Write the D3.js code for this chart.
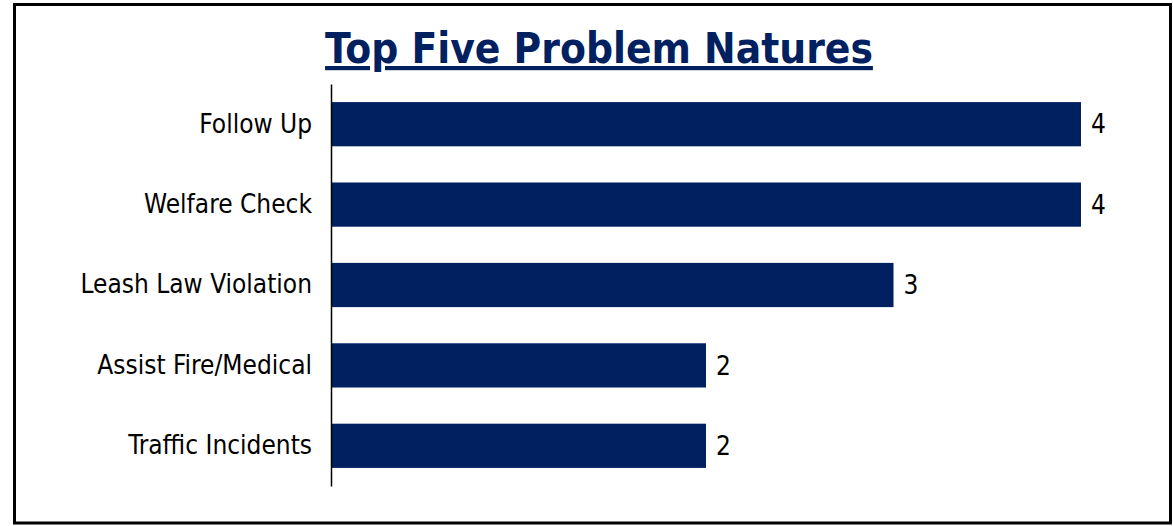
<!DOCTYPE html>
<html><head><meta charset="utf-8">
<script src="https://cdn.jsdelivr.net/npm/d3@7"></script>
<style>body{margin:0;background:#fff}svg{display:block}</style>
</head><body>
<script>
const categories = ["Follow Up","Welfare Check","Leash Law Violation","Assist Fire/Medical","Traffic Incidents"];
const values = [4,4,3,2,2];
const title = "Top Five Problem Natures";

const W=1173,H=526;
const svg=d3.select("body").append("svg").attr("width",W).attr("height",H);
svg.append("rect").attr("width",W).attr("height",H).attr("fill","#fff");
svg.append("rect").attr("x",14.5).attr("y",4.5).attr("width",1156).attr("height",518.5)
  .attr("fill","none").attr("stroke","#000").attr("stroke-width",3);

const navy="#002060";
const font="'DejaVu Sans Condensed','DejaVu Sans',sans-serif";
const x=d3.scaleLinear().domain([0,4]).range([331,1081]);
const y=d3.scaleBand().domain(categories).range([84,486]).paddingInner(0.45).paddingOuter(0.225);

svg.append("text").attr("x",599).attr("y",63).attr("text-anchor","middle")
  .attr("font-family",font).attr("font-weight","bold").attr("font-size",42)
  .attr("fill",navy).attr("text-decoration","underline").text(title);

svg.selectAll("rect.bar").data(categories).join("rect").attr("class","bar")
  .attr("x",x(0)).attr("y",d=>y(d)).attr("width",(d,i)=>x(values[i])-x(0))
  .attr("height",y.bandwidth()).attr("fill",navy);

const ax=svg.append("g").attr("transform",`translate(${x(0)},0)`)
  .call(d3.axisLeft(y).tickSize(0).tickPadding(19));
ax.select(".domain").attr("stroke","#000").attr("stroke-width",1.5);
ax.selectAll("text").attr("font-family",font).attr("font-size",26).attr("fill","#000");

svg.selectAll("text.val").data(categories).join("text").attr("class","val")
  .attr("x",(d,i)=>x(values[i])+10).attr("y",d=>y(d)+y.bandwidth()/2)
  .attr("dy","0.35em").attr("font-family",font).attr("font-size",26).attr("fill","#000")
  .text((d,i)=>values[i]);
</script>
</body></html>
